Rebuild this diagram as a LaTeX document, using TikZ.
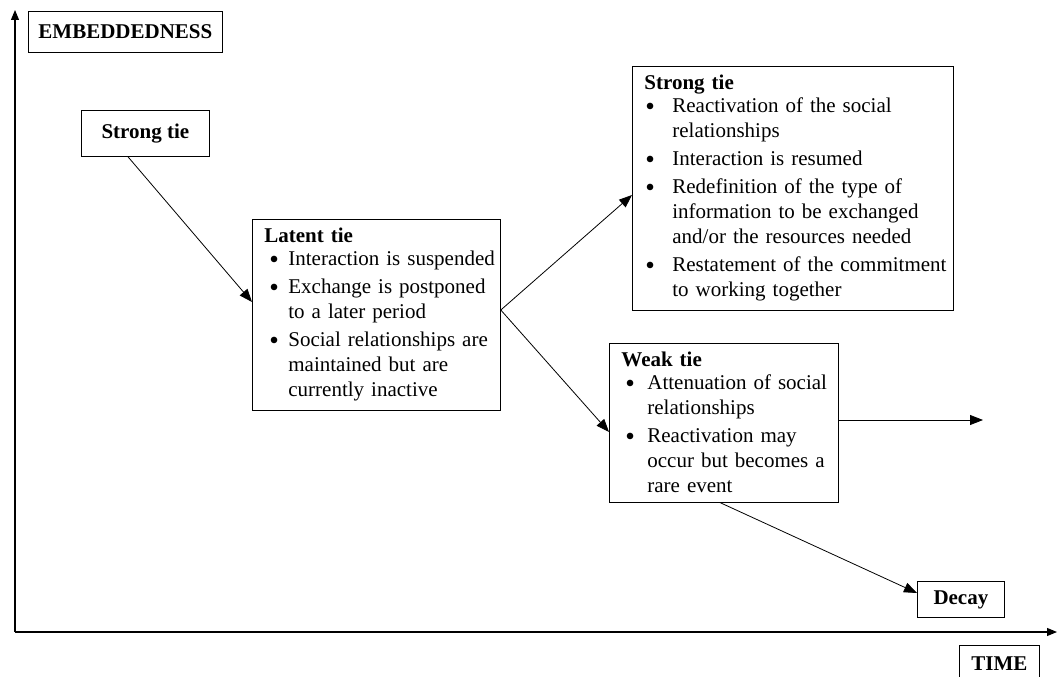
\documentclass[tikz,border=0pt]{standalone}
\usepackage{fontspec}
\setmainfont{Liberation Serif}
\usetikzlibrary{arrows.meta}
\newcommand{\hd}[1]{\raggedright\rightskip=-10pt plus 1fil\relax\textbf{#1}\par\vspace{-5pt}}
\newcommand{\itm}[3]{\par\vspace{3pt}\hangindent=#2\hangafter=1\noindent\makebox[#2][l]{\hspace{#1}\raisebox{-3pt}{\scalebox{1.3}{\textbullet}}}#3\par}
\tikzset{
  x=1pt, y=-1pt,
  lbl/.style={draw, line width=0.8pt, inner xsep=10pt, inner ysep=6pt, font=\fontsize{21}{23}\selectfont\bfseries, anchor=north west},
  tbox/.style={draw, line width=0.8pt, inner xsep=12pt, inner ysep=9pt, anchor=north west, font=\fontsize{21}{25}\selectfont},
  conn/.style={line width=0.8pt, -{Triangle[length=13pt,width=10pt]}},
  axis/.style={line width=1.1pt, -{Triangle[length=10pt,width=8pt]}}
}
\begin{document}
\begin{tikzpicture}
\useasboundingbox (0,0) rectangle (1057,677);
\coordinate (origin) at (15,632);
\coordinate (ytop) at (15,10);
\coordinate (xend) at (1057,632);
\draw[axis] (origin) -- (ytop);
\draw[axis] (origin) -- (xend);

\node[lbl, minimum width=194pt, minimum height=41pt] (emb) at (28,11) {EMBEDDEDNESS};
\node[lbl, minimum width=128pt, minimum height=46pt] (s1) at (81,110) {Strong tie};

\node[tbox, text width=224pt] (lat) at (252,219) {\hd{Latent tie}%
\itm{5pt}{24pt}{Interaction is suspended}%
\itm{5pt}{24pt}{Exchange is postponed\newline to a later period}%
\itm{5pt}{24pt}{Social relationships are\newline maintained but are\newline currently inactive}};

\node[tbox, text width=297pt] (s2) at (632,66) {\hd{Strong tie}%
\itm{1pt}{28pt}{Reactivation of the social\newline relationships}%
\itm{1pt}{28pt}{Interaction is resumed}%
\itm{1pt}{28pt}{Redefinition of the type of\newline information to be exchanged\newline and/or the resources needed}%
\itm{1pt}{28pt}{Restatement of the commitment\newline to working together}};

\node[tbox, text width=205pt] (weak) at (609,343) {\hd{Weak tie}%
\itm{4pt}{26pt}{Attenuation of social\newline relationships}%
\itm{4pt}{26pt}{Reactivation may\newline occur but becomes a\newline rare event}};

\node[lbl, minimum width=87pt, minimum height=36pt] (decay) at (917,581) {Decay};
\node[lbl, minimum width=80pt, minimum height=36pt] (time) at (959,645) {TIME};

\coordinate (s1out) at (s1.south -| 128,0);
\coordinate (latin) at (lat.west |- 0,302);
\coordinate (lout) at (lat.east |- 0,310);
\coordinate (s2in) at (s2.west |- 0,195);
\coordinate (weakin) at (weak.west |- 0,432);
\coordinate (weakout) at (weak.east |- 0,420);
\coordinate (weakbot) at (weak.south -| 720,0);
\coordinate (decayin) at (decay.west |- 0,593);
\coordinate (wend) at (983,420);
\draw[conn] (s1out) -- (latin);
\draw[conn] (lout) -- (s2in);
\draw[conn] (lout) -- (weakin);
\draw[conn] (weakout) -- (wend);
\draw[conn] (weakbot) -- (decayin);
\end{tikzpicture}
\end{document}
